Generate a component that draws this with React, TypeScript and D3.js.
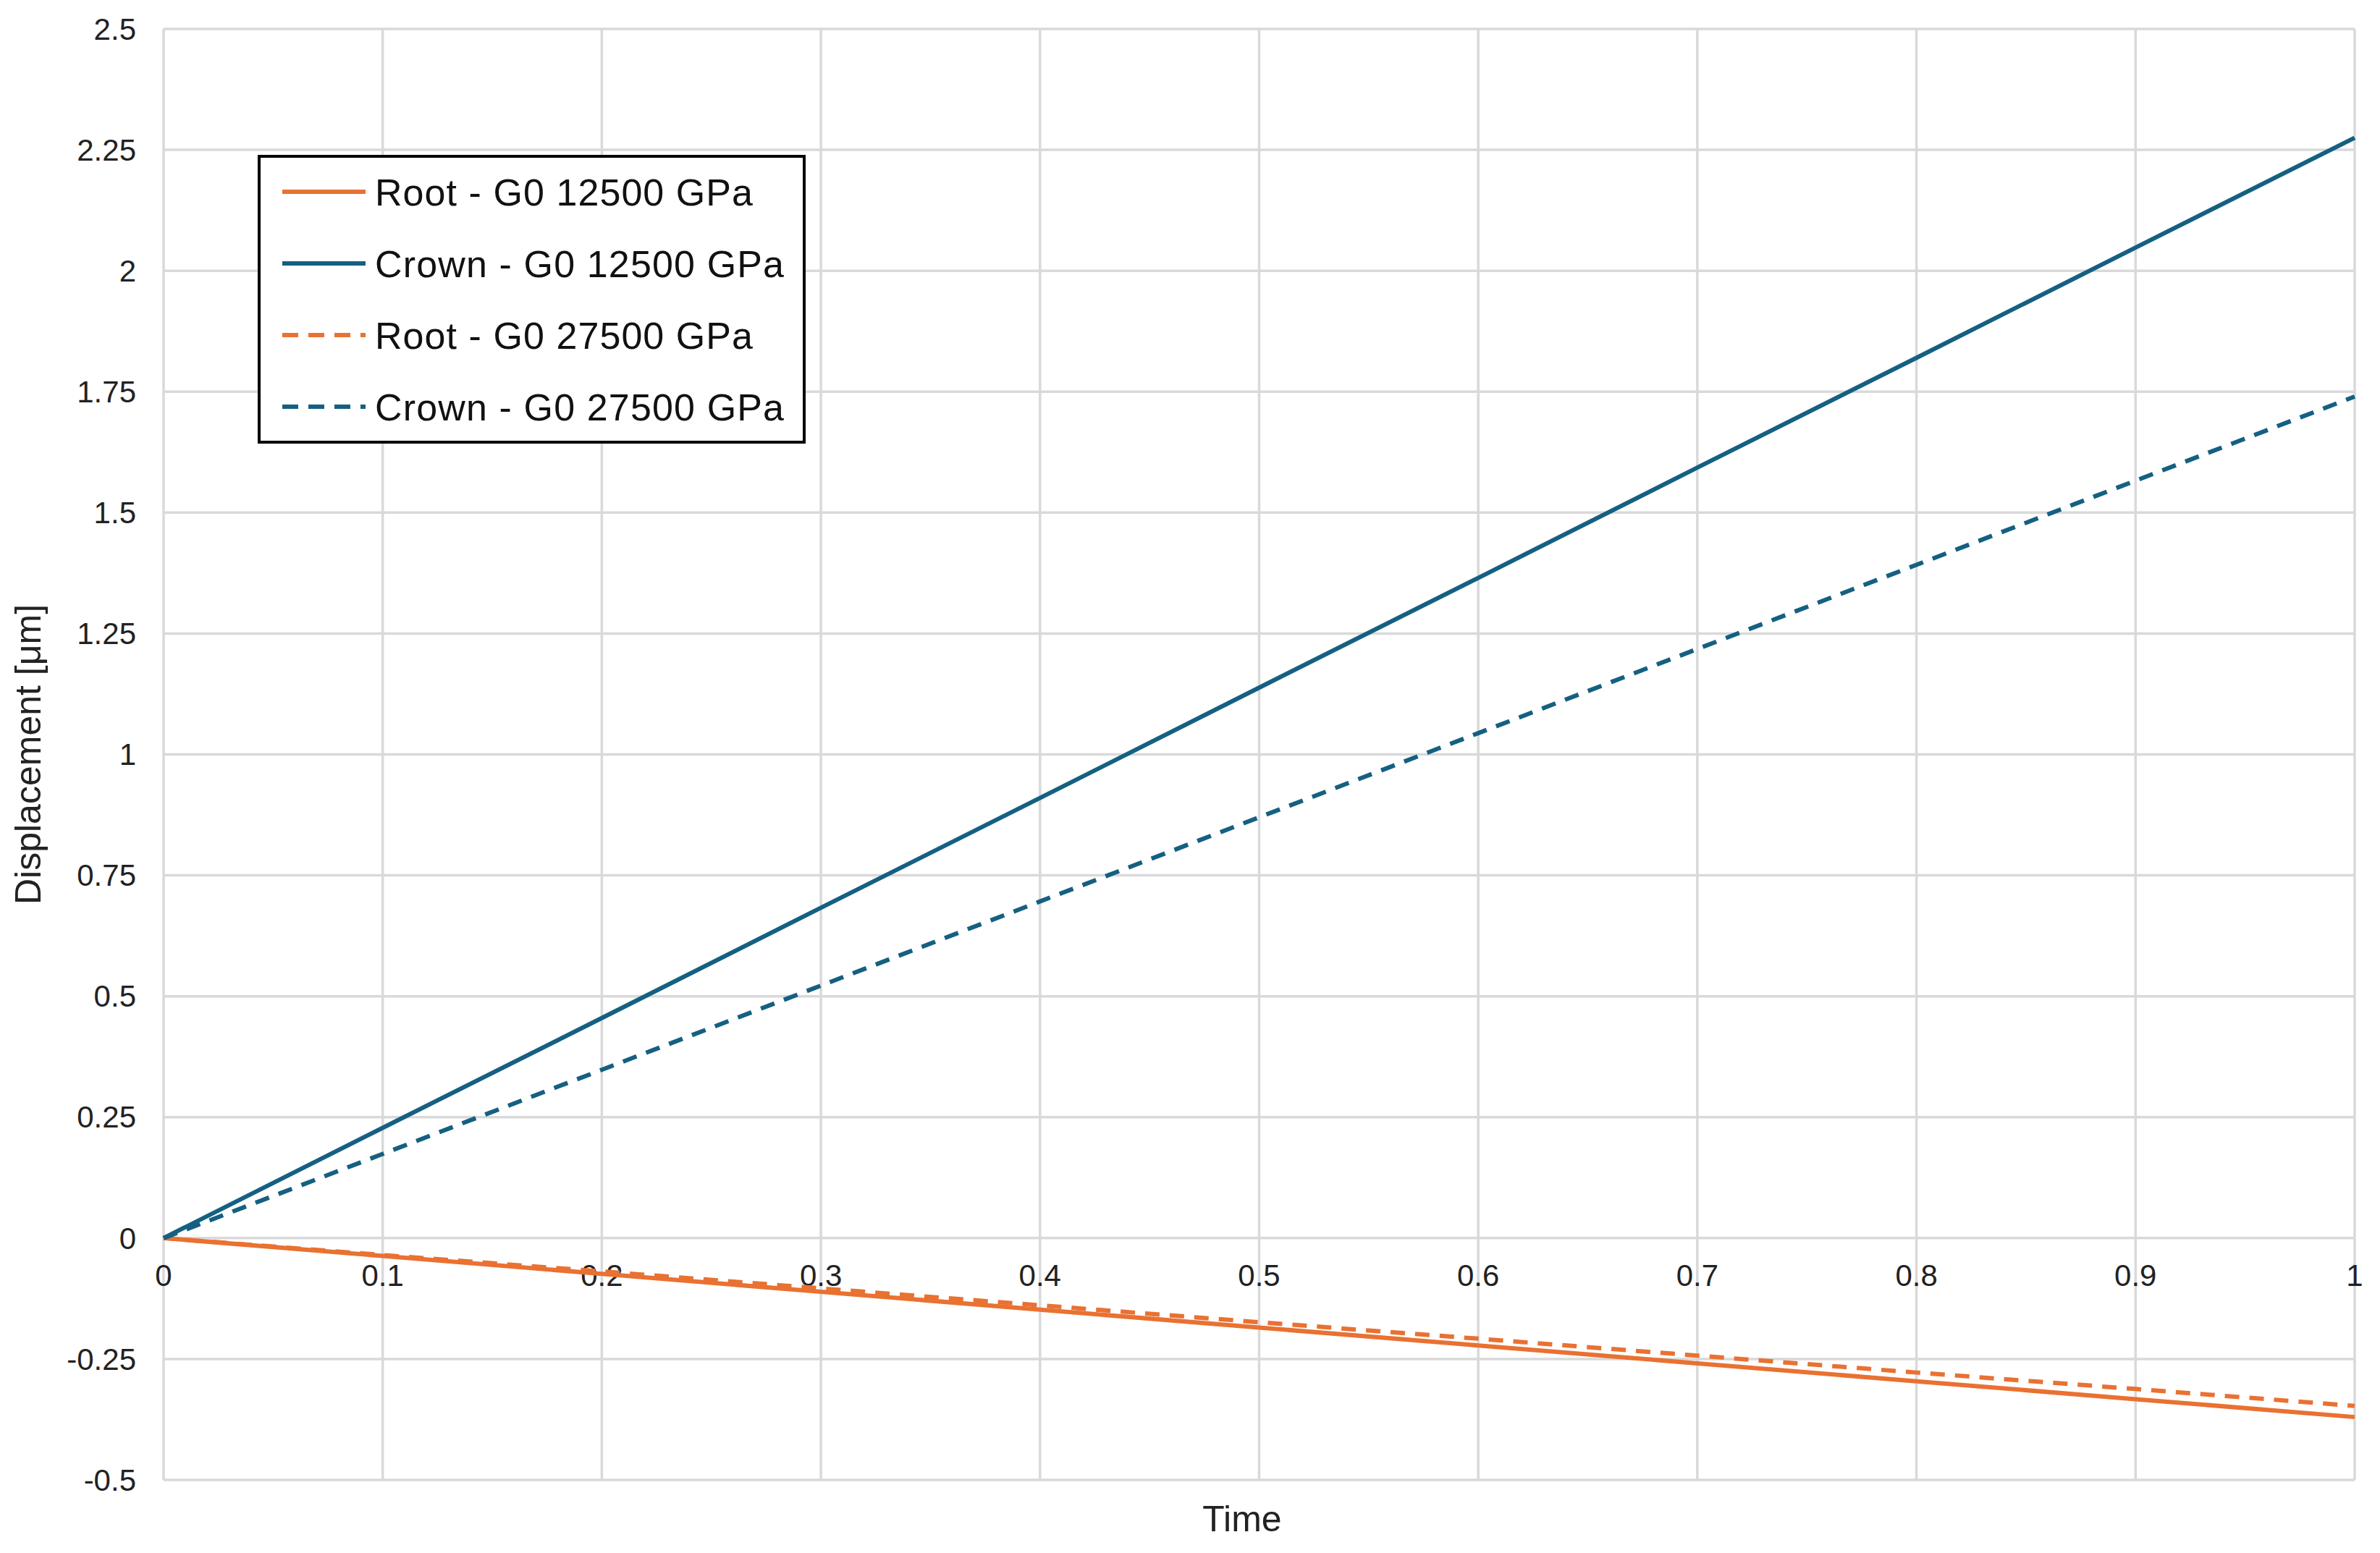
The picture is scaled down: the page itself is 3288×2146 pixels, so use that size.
import React from "react";
import * as d3 from "d3";

const times = [0, 0.1, 0.2, 0.3, 0.4, 0.5, 0.6, 0.7, 0.8, 0.9, 1];
const rootG12500 = [0, -0.037, -0.074, -0.111, -0.148, -0.185, -0.222, -0.259, -0.296, -0.333, -0.37];
const crownG12500 = [0, 0.228, 0.455, 0.683, 0.91, 1.138, 1.365, 1.593, 1.82, 2.048, 2.275];
const rootG27500 = [0, -0.035, -0.069, -0.104, -0.139, -0.174, -0.208, -0.243, -0.278, -0.312, -0.347];
const crownG27500 = [0, 0.174, 0.348, 0.522, 0.696, 0.87, 1.044, 1.218, 1.392, 1.566, 1.74];
const yTicks = [-0.5, -0.25, 0, 0.25, 0.5, 0.75, 1, 1.25, 1.5, 1.75, 2, 2.25, 2.5];
const xTicks = [0, 0.1, 0.2, 0.3, 0.4, 0.5, 0.6, 0.7, 0.8, 0.9, 1];

const ORANGE = "#E97132";
const BLUE = "#156082";

const series = [
  { name: "Root - G0 12500 GPa", values: rootG12500, color: ORANGE, dash: "" },
  { name: "Crown - G0 12500 GPa", values: crownG12500, color: BLUE, dash: "" },
  { name: "Root - G0 27500 GPa", values: rootG27500, color: ORANGE, dash: "20 14" },
  { name: "Crown - G0 27500 GPa", values: crownG27500, color: BLUE, dash: "20 14" },
];

const W = 3288, H = 2146;
const left = 226, right = 3253, top = 40, bottom = 2045;
const font = "Liberation Sans, Arial, sans-serif";

export default function App() {
  const x = d3.scaleLinear().domain([0, 1]).range([left, right]);
  const y = d3.scaleLinear().domain([-0.5, 2.5]).range([bottom, top]);
  const line = d3.line<number>().x((_, i) => x(times[i])).y((d) => y(d));
  const fmt = (v: number) => String(v);

  return (
    <svg width={W} height={H} style={{ position: "absolute", left: 0, top: 0, background: "#fff" }} fontFamily={font}>
      {xTicks.map((t) => (
        <line key={"gx" + t} x1={x(t)} x2={x(t)} y1={top} y2={bottom} stroke="#d9d9d9" strokeWidth={3.5} />
      ))}
      {yTicks.map((t) => (
        <line key={"gy" + t} x1={left} x2={right} y1={y(t)} y2={y(t)} stroke="#d9d9d9" strokeWidth={3.5} />
      ))}
      {yTicks.map((t) => (
        <text key={"ty" + t} x={188} y={y(t)} dy="0.35em" textAnchor="end" fontSize={42} fill="#222">{fmt(t)}</text>
      ))}
      {xTicks.map((t) => (
        <text key={"tx" + t} x={x(t)} y={y(0) + 66} textAnchor="middle" fontSize={42} fill="#222">{fmt(t)}</text>
      ))}
      <text x={1716} y={2116} textAnchor="middle" fontSize={50} fill="#222">Time</text>
      <text transform={`translate(56,${(top + bottom) / 2}) rotate(-90)`} textAnchor="middle" fontSize={50} fill="#222">Displacement [μm]</text>
      {series.map((s) => (
        <path key={s.name} d={line(s.values) || ""} fill="none" stroke={s.color} strokeWidth={6} strokeDasharray={s.dash} />
      ))}
      <rect x={358} y={216} width={753} height={395} fill="#fff" stroke="#000" strokeWidth={4} />
      {series.map((s, i) => {
        const cy = 265 + i * 99;
        return (
          <g key={"lg" + s.name}>
            <line x1={390} x2={505} y1={cy} y2={cy} stroke={s.color} strokeWidth={6} strokeDasharray={s.dash ? "22 14" : ""} />
            <text x={518} y={cy} dy="0.36em" fontSize={52} fill="#111" textLength={s.name.startsWith("Crown") ? 565 : 522}>{s.name}</text>
          </g>
        );
      })}
    </svg>
  );
}
